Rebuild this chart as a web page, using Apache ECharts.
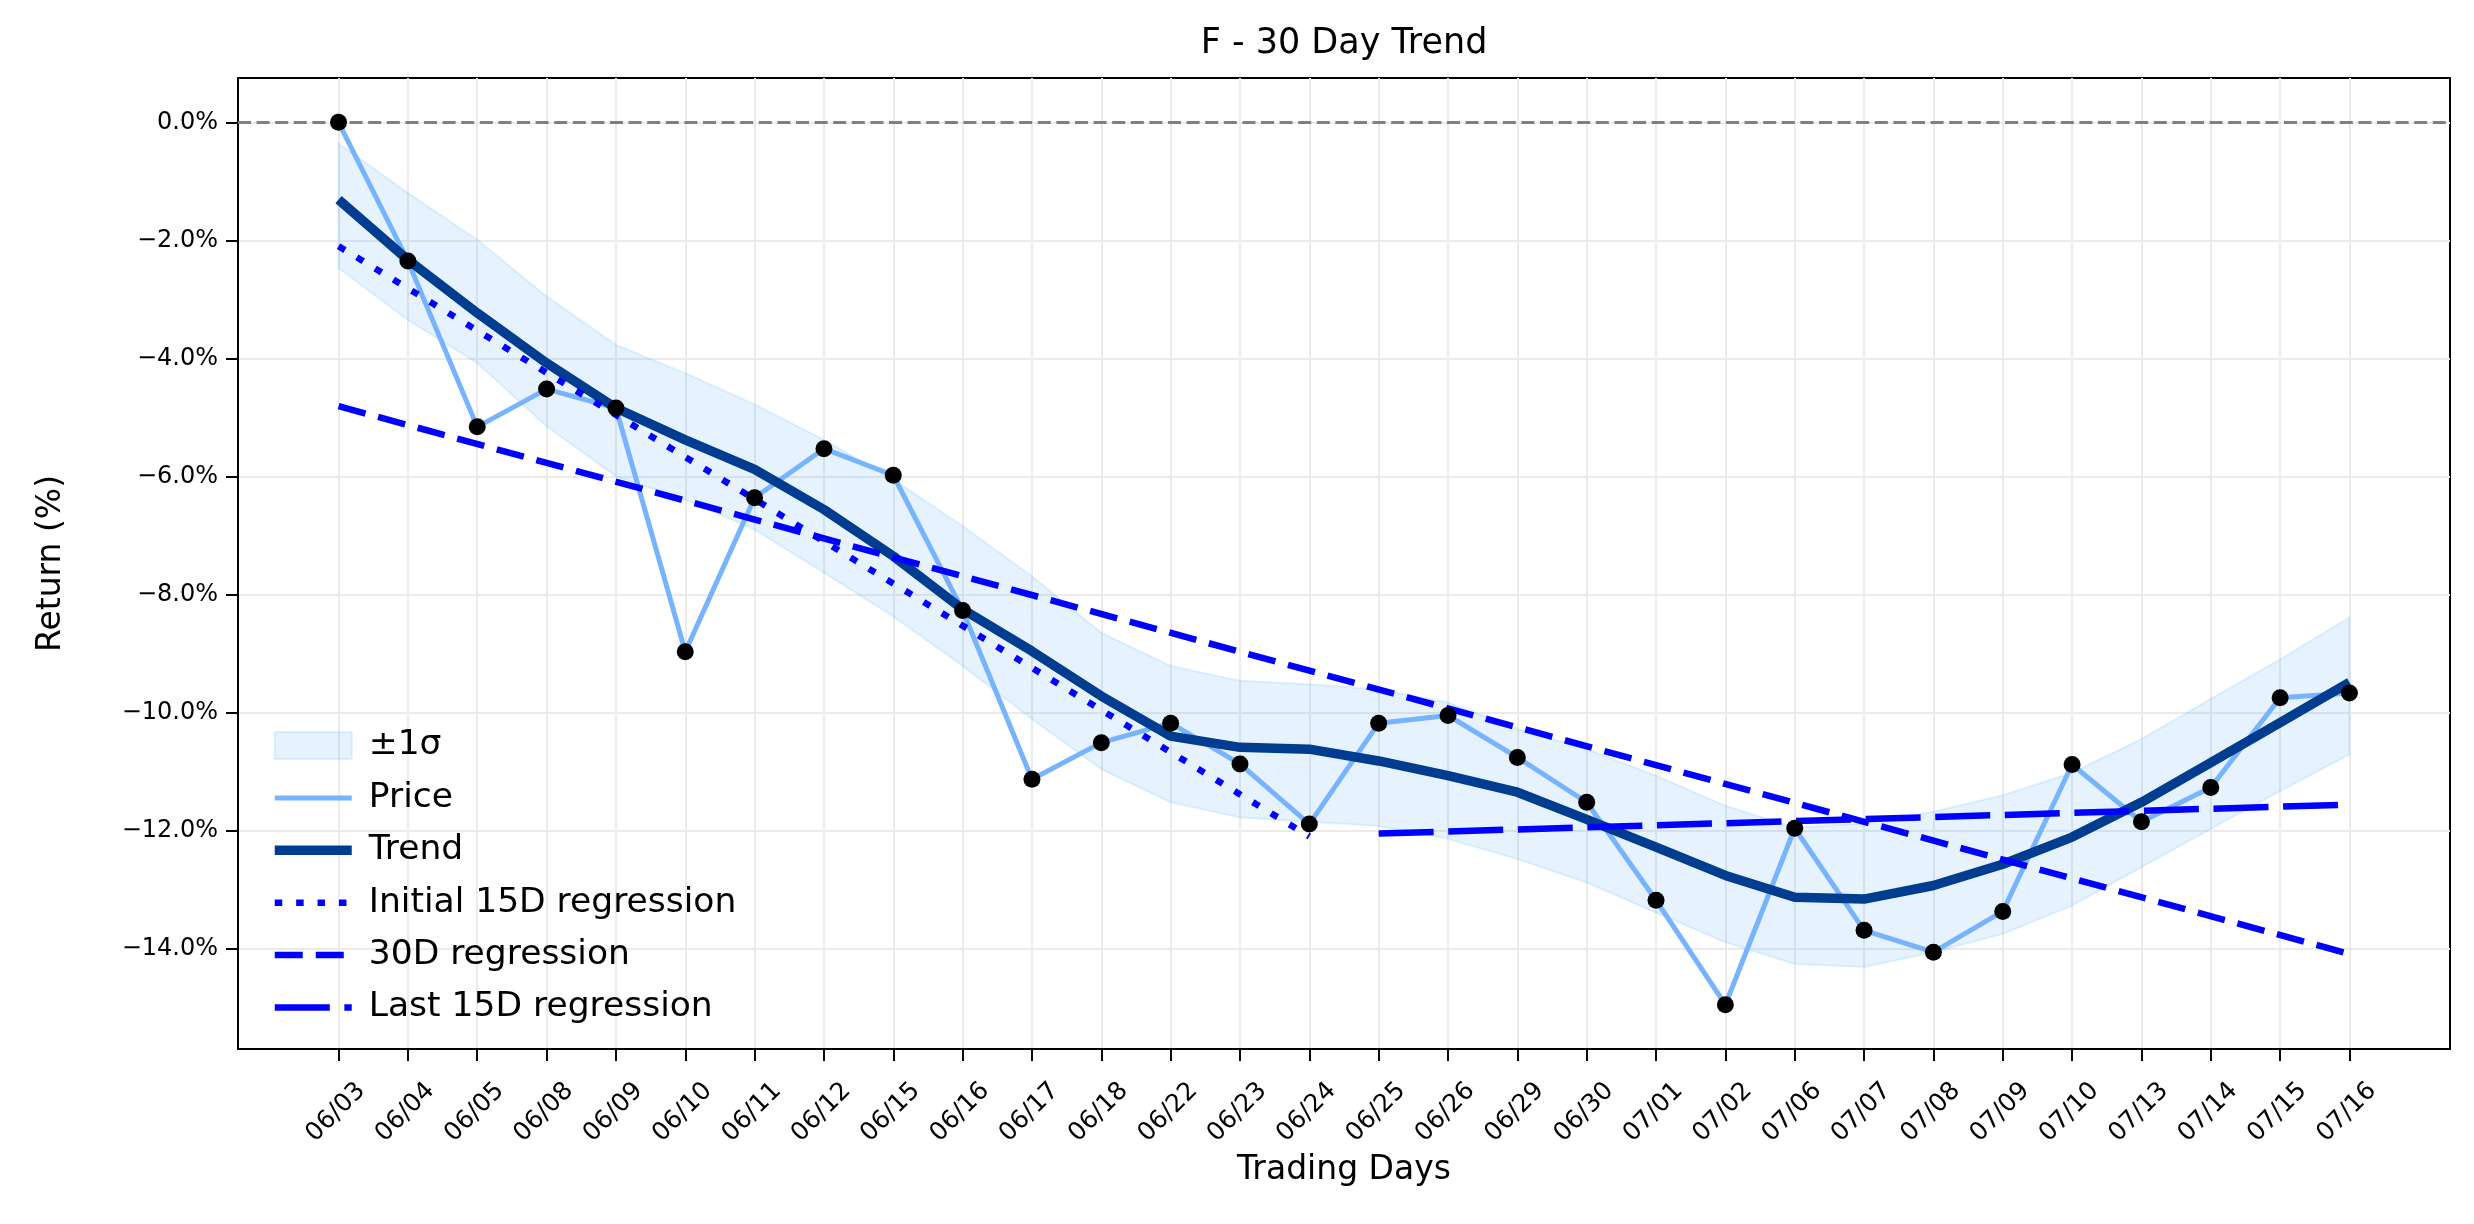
<!DOCTYPE html>
<html>
<head>
<meta charset="utf-8">
<title>F - 30 Day Trend</title>
<script src="https://cdn.jsdelivr.net/npm/echarts@6/dist/echarts.min.js"></script>
<style>
  html, body { margin: 0; padding: 0; background: #fff; }
  #chart { width: 2474px; height: 1224px; }
</style>
</head>
<body>
<div id="chart"></div>
<script>
// trading days on the x axis
const dates = ['06/03', '06/04', '06/05', '06/08', '06/09', '06/10', '06/11', '06/12', '06/15', '06/16',
  '06/17', '06/18', '06/22', '06/23', '06/24', '06/25', '06/26', '06/29', '06/30', '07/01',
  '07/02', '07/06', '07/07', '07/08', '07/09', '07/10', '07/13', '07/14', '07/15', '07/16'];

// cumulative return, %
const price = [0.00, -2.35, -5.16, -4.52, -4.84, -8.97, -6.36, -5.53, -5.98, -8.27,
  -11.13, -10.51, -10.18, -10.87, -11.89, -10.18, -10.05, -10.76, -11.52, -13.18,
  -14.95, -11.96, -13.69, -14.06, -13.37, -10.88, -11.85, -11.27, -9.75, -9.67];

const trend = [-1.31, -2.33, -3.23, -4.08, -4.84, -5.38, -5.88, -6.56, -7.35, -8.25,
  -8.96, -9.72, -10.40, -10.59, -10.62, -10.82, -11.07, -11.35, -11.81, -12.28,
  -12.76, -13.13, -13.16, -12.93, -12.57, -12.11, -11.52, -10.85, -10.17, -9.49];

// +/- 1 sigma band
const bandUpper = [-0.36, -1.20, -1.99, -2.95, -3.77, -4.25, -4.78, -5.38, -6.05, -6.84,
  -7.69, -8.65, -9.21, -9.46, -9.52, -9.61, -9.83, -10.28, -10.62, -11.07,
  -11.58, -11.95, -11.88, -11.68, -11.40, -11.02, -10.45, -9.77, -9.10, -8.39];
const bandLower = [-2.47, -3.35, -4.08, -5.15, -6.00, -6.39, -6.90, -7.63, -8.37, -9.21,
  -10.11, -10.96, -11.52, -11.78, -11.85, -11.92, -12.14, -12.48, -12.88, -13.39,
  -13.89, -14.26, -14.31, -14.06, -13.75, -13.27, -12.62, -11.97, -11.33, -10.71];

// regression lines: first and last day, value at each end
const initialRegDays = ['06/03', '06/24'];
const initialRegValues = [-2.10, -12.10];
const fullRegDays = ['06/03', '07/16'];
const fullRegValues = [-4.81, -14.09];
const lastRegDays = ['06/25', '07/16'];
const lastRegValues = [-12.05, -11.56];

const yTicks = [-14, -12, -10, -8, -6, -4, -2, 0];

const FONT = 'DejaVu Sans';
const bandFill = 'rgba(30,144,255,0.11)';
const bandEdge = 'rgba(30,144,255,0.12)';
const priceColor = '#78b4fe';
const trendColor = '#003c8f';
const regColor = '#0000ff';
const LABEL_SHIFT = 0.33;

const idx = (d) => dates.indexOf(d);
const pairs = (vals) => vals.map((v, i) => [i, v]);
const regPairs = (days, vals) => days.map((d, i) => [idx(d), vals[i]]);

// one polygon: upper edge left->right, lower edge back right->left
const renderBand = (params, api) => {
  if (params.dataIndex !== 0) return null;
  const top = bandUpper.map((v, i) => api.coord([i, v]));
  const bottom = bandLower.map((v, i) => api.coord([i, v])).reverse();
  return {
    type: 'polygon',
    shape: { points: top.concat(bottom) },
    style: { fill: bandFill, stroke: bandEdge, lineWidth: 2 },
  };
};

const option = {
  animation: false,
  backgroundColor: '#fff',
  textStyle: { fontFamily: FONT, color: '#000' },
  title: {
    text: 'F - 30 Day Trend',
    left: 1344,
    top: 26,
    padding: 0,
    textAlign: 'center',
    textStyle: { fontFamily: FONT, fontSize: 35, fontWeight: 'normal', color: '#000' },
  },
  legend: {
    orient: 'vertical',
    left: 265,
    top: 723,
    itemWidth: 77,
    itemHeight: 27,
    itemGap: 17.4,
    itemStyle: { opacity: 0 },
    textStyle: { fontFamily: FONT, fontSize: 34.5, color: '#000', lineHeight: 34, padding: [0, 0, 0, 12] },
    data: [
      { name: '±1σ', icon: 'rect', itemStyle: { opacity: 1, color: bandFill, borderColor: bandEdge, borderWidth: 2 } },
      { name: 'Price', lineStyle: { width: 5 } },
      { name: 'Trend', lineStyle: { width: 9.5 } },
      { name: 'Initial 15D regression', lineStyle: { width: 6.5 } },
      { name: '30D regression', lineStyle: { width: 6.5 } },
      { name: 'Last 15D regression', lineStyle: { width: 6.5 } },
    ],
  },
  grid: {
    left: 238,
    right: 24,
    top: 78,
    bottom: 175,
    show: true,
    borderColor: '#000',
    borderWidth: 2,
    outerBoundsMode: 'none',
  },
  xAxis: {
    type: 'value',
    min: -1.45,
    max: 30.45,
    name: 'Trading Days',
    nameLocation: 'middle',
    nameGap: 70,
    nameTextStyle: { fontFamily: FONT, fontSize: 33, color: '#000' },
    axisLine: { show: true, onZero: false, lineStyle: { color: '#000', width: 2 } },
    axisTick: { show: true, length: 12, customValues: dates.map((d, i) => i), lineStyle: { color: '#000', width: 2 } },
    axisLabel: {
      customValues: dates.map((d, i) => i + LABEL_SHIFT),
      rotate: 45,
      margin: 38,
      fontSize: 25,
      color: '#000',
      formatter: (v) => dates[Math.round(v - LABEL_SHIFT)],
    },
    splitLine: { show: true, lineStyle: { color: '#ebebeb', width: 2 } },
  },
  yAxis: {
    type: 'value',
    min: -15.70,
    max: 0.75,
    name: 'Return (%)',
    nameLocation: 'middle',
    nameGap: 170,
    nameTextStyle: { fontFamily: FONT, fontSize: 33, color: '#000' },
    axisLine: { show: true, onZero: false, lineStyle: { color: '#000', width: 2 } },
    axisTick: { show: true, length: 12, customValues: yTicks, lineStyle: { color: '#000', width: 2 } },
    axisLabel: {
      customValues: yTicks,
      margin: 20,
      fontSize: 24,
      color: '#000',
      formatter: (v) => (v < 0 ? '\u2212' : '') + Math.abs(v).toFixed(1) + '%',
    },
    splitLine: { show: true, lineStyle: { color: '#ebebeb', width: 2 } },
  },
  series: [
    {
      name: '±1σ',
      type: 'custom',
      data: bandUpper.map((v, i) => [i, v, bandLower[i]]),
      encode: { x: 0, y: [1, 2] },
      renderItem: renderBand,
      itemStyle: { color: bandFill },
      silent: true,
      z: 1,
    },
    {
      name: 'Price',
      type: 'line',
      data: pairs(price),
      symbol: 'none',
      itemStyle: { color: priceColor },
      lineStyle: { color: priceColor, width: 5 },
      z: 2,
      markLine: {
        silent: true,
        symbol: 'none',
        label: { show: false },
        lineStyle: { color: '#808080', type: [13, 5.6], width: 3 },
        data: [{ yAxis: 0 }],
      },
    },
    {
      name: 'Trend',
      type: 'line',
      data: pairs(trend),
      symbol: 'none',
      itemStyle: { color: trendColor },
      lineStyle: { color: trendColor, width: 9.5 },
      z: 3,
    },
    {
      name: 'Initial 15D regression',
      type: 'line',
      data: regPairs(initialRegDays, initialRegValues),
      symbol: 'none',
      itemStyle: { color: regColor },
      lineStyle: { color: regColor, width: 6.5, type: [7.5, 13.9] },
      z: 4,
    },
    {
      name: '30D regression',
      type: 'line',
      data: regPairs(fullRegDays, fullRegValues),
      symbol: 'none',
      itemStyle: { color: regColor },
      lineStyle: { color: regColor, width: 6.5, type: [28, 13] },
      z: 4,
    },
    {
      name: 'Last 15D regression',
      type: 'line',
      data: regPairs(lastRegDays, lastRegValues),
      symbol: 'none',
      itemStyle: { color: regColor },
      lineStyle: { color: regColor, width: 6.5, type: [55, 14.6] },
      z: 4,
    },
    {
      name: 'dots',
      type: 'scatter',
      data: pairs(price),
      symbolSize: 17,
      itemStyle: { color: '#000', opacity: 1 },
      z: 5,
    },
  ],
};

const myChart = echarts.init(document.getElementById('chart'));
myChart.setOption(option);
</script>
</body>
</html>
